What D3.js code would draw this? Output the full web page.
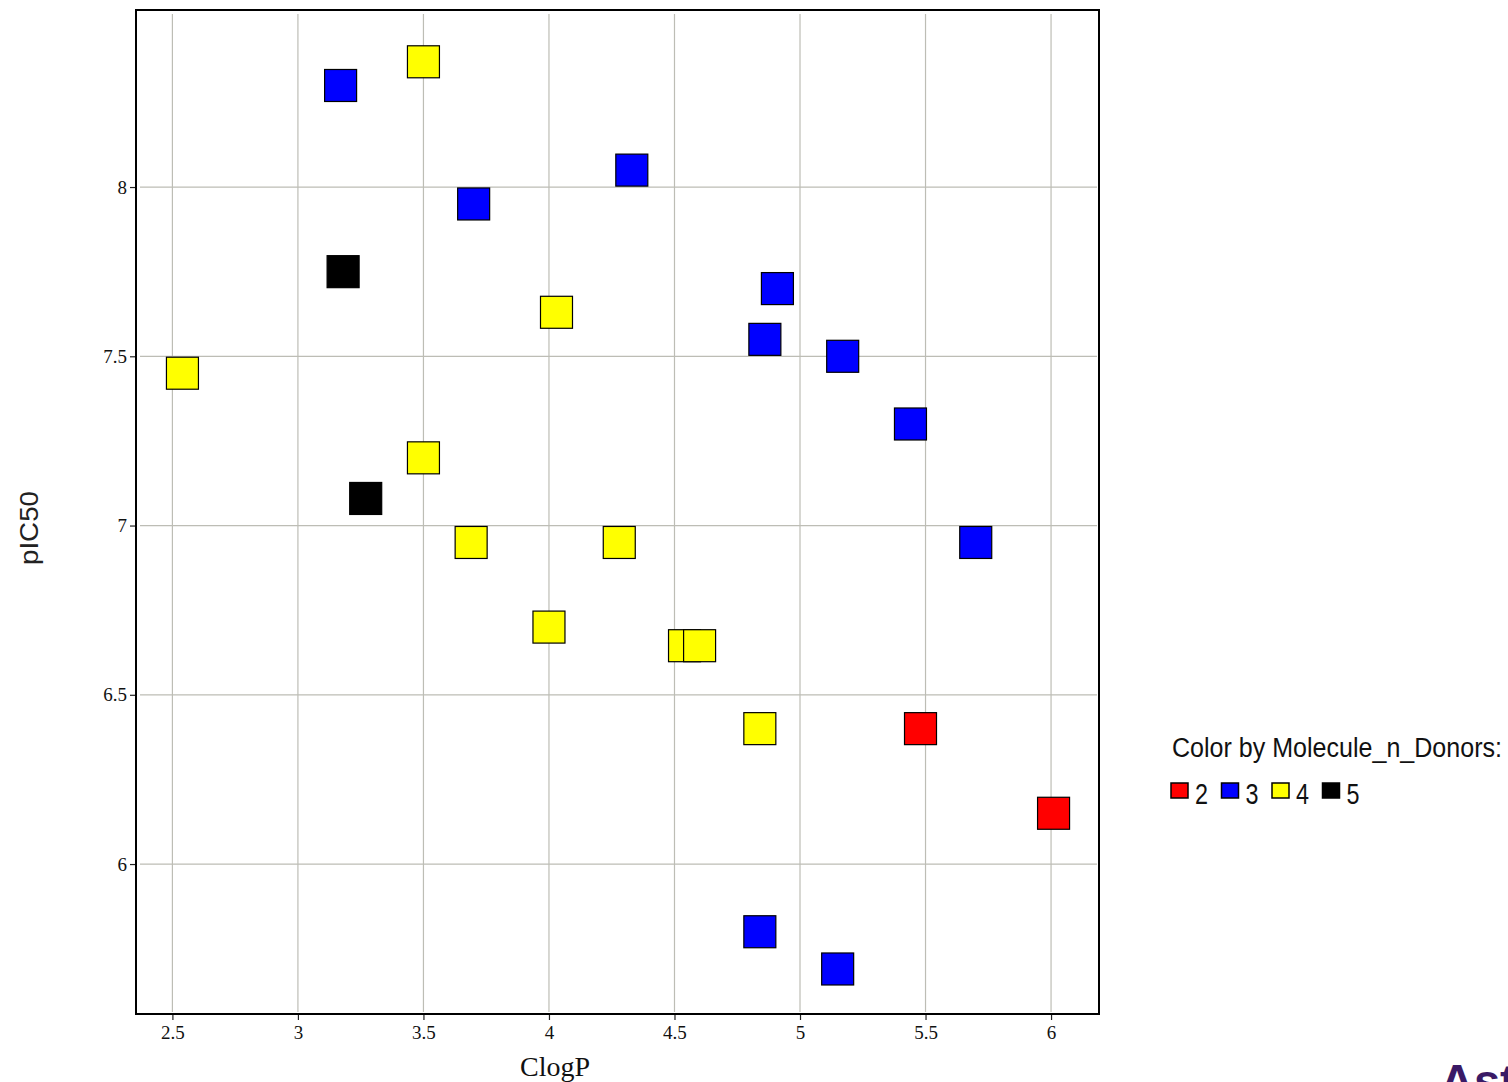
<!DOCTYPE html>
<html>
<head>
<meta charset="utf-8">
<script src="https://cdn.jsdelivr.net/npm/d3@7"></script>
<style>
  html, body { margin: 0; padding: 0; background: #fff; }
  svg { display: block; }
</style>
</head>
<body>
<svg id="chart" width="1508" height="1082"></svg>
<script>
// ---- data ----
const clogP  = [3.17, 4.33, 3.70, 4.91, 4.86, 5.17, 5.44, 5.70, 4.84, 5.15,
                3.50, 4.03, 2.54, 3.50, 3.69, 4.28, 4.00, 4.54, 4.60, 4.84,
                5.48, 6.01,
                3.18, 3.27];
const pIC50  = [8.30, 8.05, 7.95, 7.70, 7.55, 7.50, 7.30, 6.95, 5.80, 5.69,
                8.37, 7.63, 7.45, 7.20, 6.95, 6.95, 6.70, 6.645, 6.645, 6.40,
                6.40, 6.15,
                7.75, 7.08];
const donors = [3, 3, 3, 3, 3, 3, 3, 3, 3, 3,
                4, 4, 4, 4, 4, 4, 4, 4, 4, 4,
                2, 2,
                5, 5];
const donorCategories = [2, 3, 4, 5];
const donorColors = ["#ff0000", "#0000ff", "#ffff00", "#000000"];
const xTicks = [2.5, 3, 3.5, 4, 4.5, 5, 5.5, 6];
const yTicks = [6, 6.5, 7, 7.5, 8];

// ---- layout ----
const svg = d3.select("#chart");
const L = 136, T = 10, R = 1099, B = 1014;

const x = d3.scaleLinear().domain([2.355, 6.191]).range([L, R]);
const y = d3.scaleLinear().domain([5.557, 8.523]).range([B, T]);
const color = d3.scaleOrdinal().domain(donorCategories).range(donorColors);

svg.append("rect").attr("width", 1508).attr("height", 1082).attr("fill", "#fff");

// grid
const gridColor = "#bdbdb5";
svg.append("g").selectAll("line").data(xTicks).join("line")
  .attr("x1", d => x(d)).attr("x2", d => x(d))
  .attr("y1", T + 4).attr("y2", B - 2)
  .attr("stroke", gridColor).attr("stroke-width", 1.2);
svg.append("g").selectAll("line").data(yTicks).join("line")
  .attr("y1", d => y(d)).attr("y2", d => y(d))
  .attr("x1", L + 4).attr("x2", R - 2)
  .attr("stroke", gridColor).attr("stroke-width", 1.2);

// axes
const xAxis = svg.append("g").attr("transform", `translate(0,${B})`)
  .call(d3.axisBottom(x).tickValues(xTicks).tickSize(6).tickPadding(6).tickFormat(d3.format("")));
const yAxis = svg.append("g").attr("transform", `translate(${L},0)`)
  .call(d3.axisLeft(y).tickValues(yTicks).tickSize(6).tickPadding(3).tickFormat(d3.format("")));
[xAxis, yAxis].forEach(a => {
  a.select(".domain").remove();
  a.selectAll("line").attr("stroke", "#222").attr("stroke-width", 1.2);
  a.selectAll("text").attr("font-family", "'Liberation Serif', 'Times New Roman', serif")
    .attr("font-size", 19).attr("fill", "#111");
});

// frame
svg.append("rect").attr("x", L).attr("y", T).attr("width", R - L).attr("height", B - T)
  .attr("fill", "none").attr("stroke", "#000").attr("stroke-width", 2);

// points
const S = 32;
svg.append("g").selectAll("rect").data(clogP.map((v, i) => i)).join("rect")
  .attr("x", i => x(clogP[i]) - S / 2)
  .attr("y", i => y(pIC50[i]) - S / 2)
  .attr("width", S).attr("height", S)
  .attr("fill", i => color(donors[i]))
  .attr("stroke", "#000").attr("stroke-width", 1.2);

// axis titles
svg.append("text").attr("x", 555).attr("y", 1076).attr("text-anchor", "middle")
  .attr("font-family", "'Liberation Serif', 'Times New Roman', serif")
  .attr("font-size", 28).attr("fill", "#111").text("ClogP");
svg.append("text").attr("transform", "translate(38,528) rotate(-90)")
  .attr("text-anchor", "middle")
  .attr("font-family", "'Liberation Sans', Arial, sans-serif")
  .attr("font-size", 25).attr("fill", "#222")
  .attr("textLength", 74).attr("lengthAdjust", "spacingAndGlyphs")
  .text("pIC50");

// legend
svg.append("text").attr("x", 1172).attr("y", 757)
  .attr("font-family", "'Liberation Sans', Arial, sans-serif")
  .attr("font-size", 27).attr("fill", "#111")
  .attr("textLength", 330).attr("lengthAdjust", "spacingAndGlyphs")
  .text("Color by Molecule_n_Donors:");
const lg = svg.append("g").selectAll("g").data(donorCategories).join("g")
  .attr("transform", (d, i) => `translate(${1171 + i * 50.5},783)`);
lg.append("rect").attr("width", 17).attr("height", 15)
  .attr("fill", d => color(d)).attr("stroke", "#000").attr("stroke-width", 1.5);
lg.append("text").attr("x", 24).attr("y", 21)
  .attr("font-family", "'Liberation Sans', Arial, sans-serif")
  .attr("font-size", 29).attr("fill", "#111")
  .attr("textLength", 13).attr("lengthAdjust", "spacingAndGlyphs")
  .text(d => d);

// partial logo text at the bottom-right edge
svg.append("text").attr("x", 1440).attr("y", 1097)
  .attr("font-family", "'Liberation Sans', Arial, sans-serif")
  .attr("font-size", 47).attr("font-weight", 600).attr("fill", "#3a1a66")
  .text("AstraZeneca");
</script>
</body>
</html>
